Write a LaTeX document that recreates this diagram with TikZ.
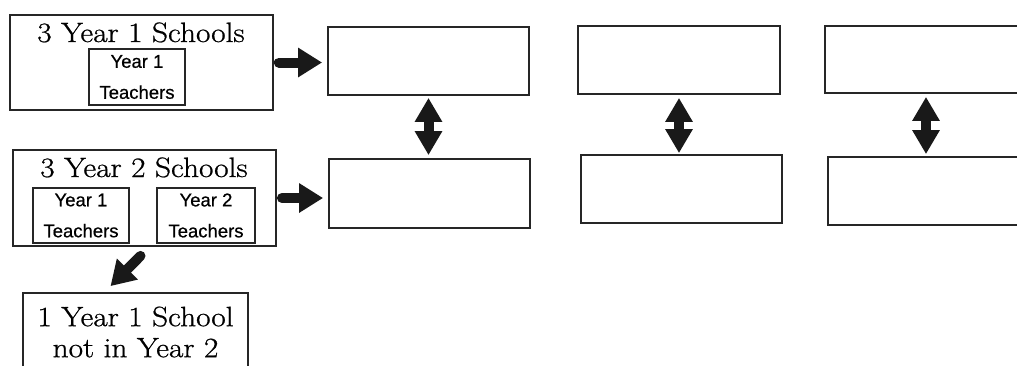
\documentclass[tikz,border=0pt]{standalone}
\usepackage{fontspec}
\newfontfamily\sansf[FakeBold=0.6]{Liberation Sans}
\newfontfamily\schf[FakeStretch=1.12,FakeBold=0.8]{Latin Modern Roman}
\usetikzlibrary{arrows.meta}
\tikzset{
  box/.style={draw=black!85, line width=1.8pt, inner sep=0pt, fill=white},
  ttl/.style={font=\schf\fontsize{28}{31}\selectfont, anchor=base, inner sep=0pt},
  tch/.style={box, align=center, font=\sansf\fontsize{18.5}{31}\selectfont},
  blk/.style={draw=black!90, line width=10pt, line cap=round, -{Triangle[length=24pt,width=28pt]}},
  dbl/.style={draw=black!90, line width=10pt, {Triangle[length=24pt,width=26pt]}-{Triangle[length=24pt,width=26pt]}}
}
\begin{document}
\begin{tikzpicture}[x=1pt,y=-1pt]
\useasboundingbox (0,0) rectangle (1017,365);
\clip (0,0) rectangle (1017,365);
% left column
\node[box, minimum width=263pt, minimum height=95pt] (b1) at (141.5,62.5) {};
\node[ttl] (t1) at (141,42) {3 Year 1 Schools};
\node[tch, minimum width=96pt, minimum height=56pt] (i1) at (137,77) {Year 1\\Teachers};
\node[box, minimum width=263pt, minimum height=96pt] (b2) at (144.5,198) {};
\node[ttl] (t2) at (144,177) {3 Year 2 Schools};
\node[tch, minimum width=96pt, minimum height=55pt] (i2a) at (81,215.5) {Year 1\\Teachers};
\node[tch, minimum width=98pt, minimum height=55pt] (i2b) at (206,215.5) {Year 2\\Teachers};
\node[box, align=center, font=\schf\fontsize{28}{31}\selectfont, minimum width=225pt, minimum height=78pt] (b3) at (135.5,332) {1 Year 1 School\\not in Year 2};
% right boxes
\node[box, minimum width=201pt, minimum height=68pt] (A) at (428.5,61) {};
\node[box, minimum width=202pt, minimum height=68pt] (B) at (679,60) {};
\node[box, minimum width=202pt, minimum height=67pt] (C) at (926,59.5) {};
\node[box, minimum width=201pt, minimum height=69pt] (D) at (429.5,193.5) {};
\node[box, minimum width=201pt, minimum height=68pt] (E) at (681.5,189) {};
\node[box, minimum width=202pt, minimum height=68pt] (F) at (929,191) {};
% connectors
\draw[blk] ([xshift=5pt]b1.east) -- ([xshift=-5pt]A.west |- b1.east);
\draw[blk] ([xshift=5pt]b2.east) -- ([xshift=-5pt]D.west |- b2.east);
\draw[blk] ([xshift=-4pt,yshift=-9pt]b2.south) -- ([xshift=-25pt,yshift=6pt]b3.north);
\draw[dbl] ([yshift=-2pt]A.south) -- ([yshift=3pt]D.north -| A.south);
\draw[dbl] ([yshift=-3pt]B.south) -- ([yshift=1pt]E.north -| B.south);
\draw[dbl] ([yshift=-3pt]C.south) -- ([yshift=2pt]F.north -| C.south);
\end{tikzpicture}
\end{document}
